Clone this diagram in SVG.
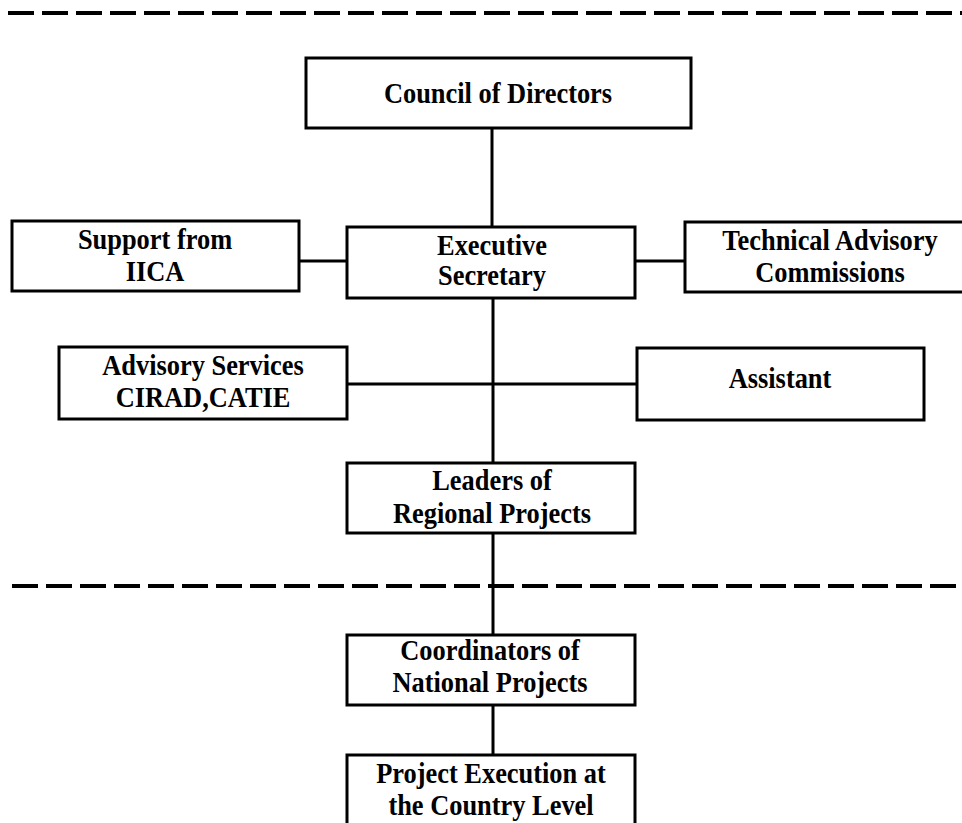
<svg xmlns="http://www.w3.org/2000/svg" width="962" height="823" viewBox="0 0 962 823">
<style>
.box{fill:#fff;stroke:#000;stroke-width:3}
.ln{fill:none;stroke:#000;stroke-width:3}
.dash{fill:none;stroke:#000;stroke-width:4;stroke-dasharray:26 8}
.t{font-family:"Liberation Serif","Times New Roman",serif;font-weight:bold;font-size:30px;text-anchor:middle;fill:#000}
</style>
<rect width="962" height="823" fill="#fff"/>
<g id="separators">
<line class="dash" x1="8" y1="13" x2="962" y2="13"/>
<line class="dash" x1="12" y1="586" x2="962" y2="586"/>
</g>
<g id="connectors">
<line class="ln" x1="492" y1="128" x2="492" y2="227"/>
<line class="ln" x1="299" y1="261" x2="347" y2="261"/>
<line class="ln" x1="635" y1="261" x2="685" y2="261"/>
<line class="ln" x1="493" y1="298" x2="493" y2="463"/>
<line class="ln" x1="347" y1="384" x2="637" y2="384"/>
<line class="ln" x1="493" y1="533" x2="493" y2="635"/>
<line class="ln" x1="493" y1="705" x2="493" y2="755"/>
</g>
<g id="council">
<rect class="box" x="306" y="58" width="385" height="70"/>
<text class="t" transform="translate(498,103) scale(0.88,1)">Council of Directors</text>
</g>
<g id="support">
<rect class="box" x="12" y="221" width="287" height="70"/>
<text class="t" transform="translate(155,249) scale(0.88,1)">Support from</text>
<text class="t" transform="translate(155,281) scale(0.88,1)">IICA</text>
</g>
<g id="executive">
<rect class="box" x="347" y="227" width="288" height="71"/>
<text class="t" transform="translate(492,255) scale(0.88,1)">Executive</text>
<text class="t" transform="translate(492,285) scale(0.88,1)">Secretary</text>
</g>
<g id="technical">
<rect class="box" x="685" y="222" width="290" height="70"/>
<text class="t" transform="translate(830,250) scale(0.88,1)">Technical Advisory</text>
<text class="t" transform="translate(830,282) scale(0.88,1)">Commissions</text>
</g>
<g id="advisory">
<rect class="box" x="59" y="347" width="288" height="72"/>
<text class="t" transform="translate(203,375) scale(0.88,1)">Advisory Services</text>
<text class="t" transform="translate(203,407) scale(0.88,1)">CIRAD,CATIE</text>
</g>
<g id="assistant">
<rect class="box" x="637" y="348" width="287" height="72"/>
<text class="t" transform="translate(780,388) scale(0.88,1)">Assistant</text>
</g>
<g id="leaders">
<rect class="box" x="347" y="463" width="288" height="70"/>
<text class="t" transform="translate(492,490) scale(0.88,1)">Leaders of</text>
<text class="t" transform="translate(492,523) scale(0.88,1)">Regional Projects</text>
</g>
<g id="coordinators">
<rect class="box" x="347" y="635" width="288" height="70"/>
<text class="t" transform="translate(490,660) scale(0.88,1)">Coordinators of</text>
<text class="t" transform="translate(490,692) scale(0.88,1)">National Projects</text>
</g>
<g id="execution">
<rect class="box" x="347" y="755" width="288" height="80"/>
<text class="t" transform="translate(491,783) scale(0.88,1)">Project Execution at</text>
<text class="t" transform="translate(491,815) scale(0.88,1)">the Country Level</text>
</g>
</svg>
